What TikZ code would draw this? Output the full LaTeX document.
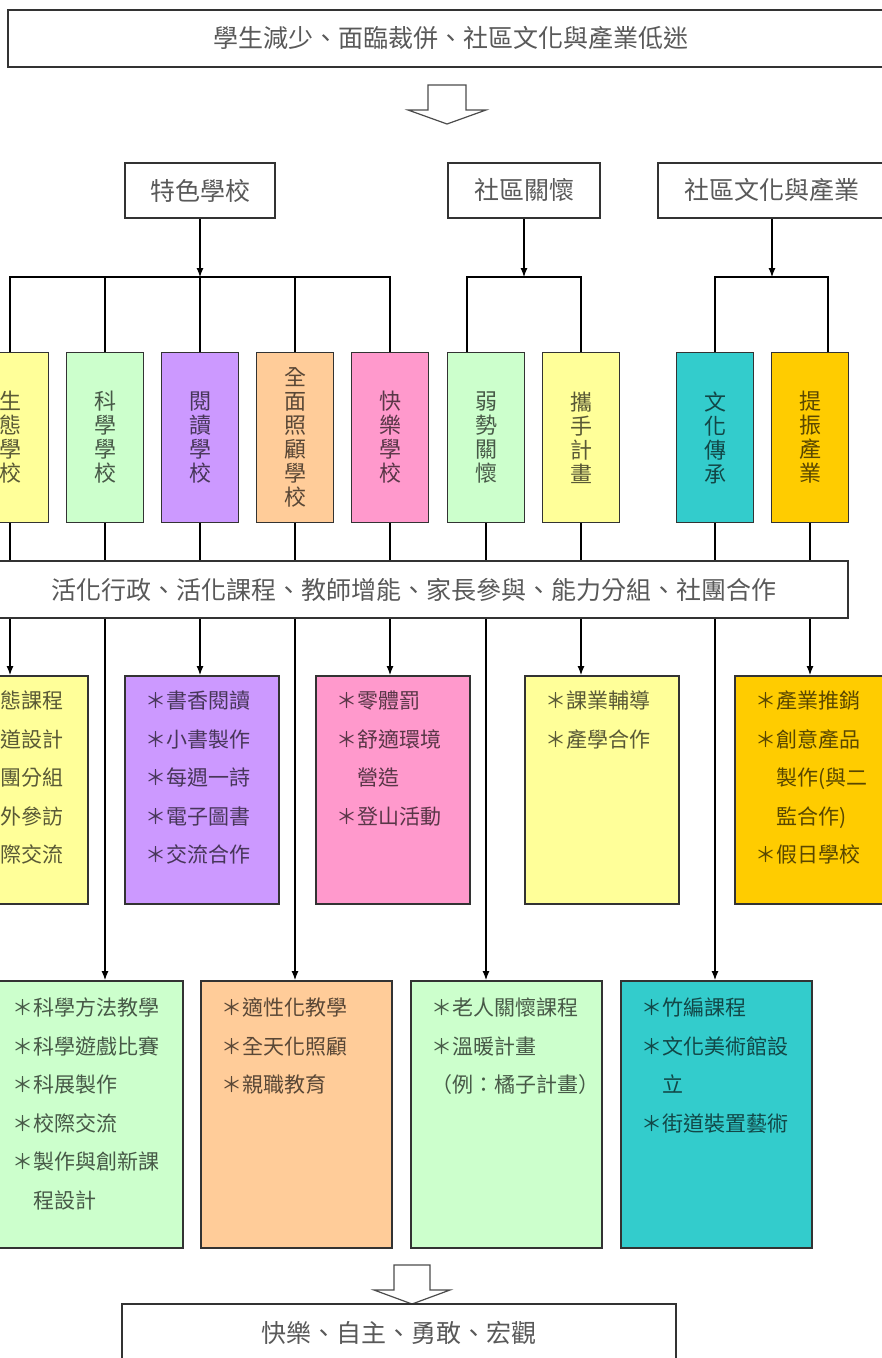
\documentclass[tikz,border=0pt]{standalone}
\usepackage{fontspec}
\newfontfamily\cjk{Noto Sans CJK TC}
\usetikzlibrary{
  arrows.meta,
  positioning,
}
\definecolor{boxyellow}{RGB}{255, 255, 153}
\definecolor{boxgreen}{RGB}{204, 255, 204}
\definecolor{boxpurple}{RGB}{204, 153, 255}
\definecolor{boxpeach}{RGB}{255, 204, 153}
\definecolor{boxpink}{RGB}{255, 153, 204}
\definecolor{boxteal}{RGB}{51, 204, 204}
\definecolor{boxgold}{RGB}{255, 204, 0}
\tikzstyle{arrow} = [
  -{Latex[length=9pt,width=7pt]},
  line width=1.1pt,
  black,
]
\tikzstyle{link} = [line width=1.1pt, black]
\tikzstyle{banner} = [
  rectangle,
  draw=black!80,
  line width=1.5pt,
  fill=white,
  text=black!65,
  inner sep=0pt,
  font=\cjk\fontsize{25}{28}\selectfont,
]
\tikzstyle{vbox} = [
  rectangle,
  draw=black!80,
  line width=1.5pt,
  minimum width=77pt,
  minimum height=170pt,
  inner sep=0pt,
  align=center,
  font=\cjk\fontsize{22}{24}\selectfont,
]
\tikzstyle{listbox} = [
  rectangle,
  draw=black!80,
  line width=1.5pt,
  anchor=north west,
  align=left,
  inner xsep=21pt,
  inner ysep=0pt,
  font=\cjk\fontsize{21}{38.5}\selectfont,
]

\begin{document}
\begin{tikzpicture}[x=1pt,y=-1pt,node distance=95pt]
\useasboundingbox (0,0) rectangle (882,1358);

\node[banner,minimum width=886,minimum height=57] (problem) at (451,38.5) {學生減少、面臨裁併、社區文化與產業低迷};
\draw[line width=1.2pt,draw=black!70,fill=white] (428,85) -- (466,85) -- (466,110) -- (486,110) -- (447,124) -- (408,110) -- (428,110) -- cycle;

\node[banner,minimum width=150,minimum height=55] (spec) at (200,190.5) {特色學校};
\node[banner,minimum width=152,minimum height=55] (care) at (524,190.5) {社區關懷};
\node[banner,minimum width=228,minimum height=55] (ind) at (772,190.5) {社區文化與產業};

\node[vbox,fill=boxyellow,text=boxyellow!35!black] (eco) at (10,437.5) {生\\態\\學\\校};
\node[vbox,fill=boxgreen,text=boxgreen!35!black] (sci) [right of=eco] {科\\學\\學\\校};
\node[vbox,fill=boxpurple,text=boxpurple!35!black] (read) [right of=sci] {閱\\讀\\學\\校};
\node[vbox,fill=boxpeach,text=boxpeach!35!black] (whole) [right of=read] {全\\面\\照\\顧\\學\\校};
\node[vbox,fill=boxpink,text=boxpink!35!black] (happy) [right of=whole] {快\\樂\\學\\校};
\node[vbox,fill=boxgreen,text=boxgreen!35!black] (weak) at (486,437.5) {弱\\勢\\關\\懷};
\node[vbox,fill=boxyellow,text=boxyellow!35!black] (hand) [right of=weak] {攜\\手\\計\\畫};
\node[vbox,fill=boxteal,text=boxteal!35!black] (culture) at (715,437.5) {文\\化\\傳\\承};
\node[vbox,fill=boxgold,text=boxgold!35!black] (boost) [right of=culture] {提\\振\\產\\業};

\node[banner,minimum width=868,minimum height=57] (bar) at (414,589.5) {活化行政、活化課程、教師增能、家長參與、能力分組、社團合作};

\node[listbox,fill=boxyellow,text=boxyellow!35!black,minimum width=108,text width=66,text height=33,text depth=195] (eco3) at (-21,675) {態課程\\道設計\\團分組\\外參訪\\際交流};
\node[listbox,fill=boxpurple,text=boxpurple!35!black,minimum width=154,text width=112,text height=33,text depth=195] (read3) at (124,675) {＊書香閱讀\\＊小書製作\\＊每週一詩\\＊電子圖書\\＊交流合作};
\node[listbox,fill=boxpink,text=boxpink!35!black,minimum width=154,text width=112,text height=33,text depth=195] (happy3) at (315,675) {＊零體罰\\＊舒適環境\\\hspace*{1em}營造\\＊登山活動};
\node[listbox,fill=boxyellow,text=boxyellow!35!black,minimum width=154,text width=112,text height=33,text depth=195] (hand3) at (524,675) {＊課業輔導\\＊產學合作};
\node[listbox,fill=boxgold,text=boxgold!35!black,minimum width=154,text width=112,text height=33,text depth=195] (boost3) at (734,675) {＊產業推銷\\＊創意產品\\\hspace*{1em}製作(與二\\\hspace*{1em}監合作)\\＊假日學校};

\node[listbox,fill=boxgreen,text=boxgreen!35!black,minimum width=191,text width=149,text height=35,text depth=232] (sci4) at (-9,980) {＊科學方法教學\\＊科學遊戲比賽\\＊科展製作\\＊校際交流\\＊製作與創新課\\\hspace*{1em}程設計};
\node[listbox,fill=boxpeach,text=boxpeach!35!black,minimum width=191,text width=149,text height=35,text depth=232] (whole4) at (200,980) {＊適性化教學\\＊全天化照顧\\＊親職教育};
\node[listbox,fill=boxgreen,text=boxgreen!35!black,minimum width=191,text width=149,text height=35,text depth=232] (weak4) at (410,980) {＊老人關懷課程\\＊溫暖計畫\\（例：橘子計畫）};
\node[listbox,fill=boxteal,text=boxteal!35!black,minimum width=191,text width=149,text height=35,text depth=232] (culture4) at (620,980) {＊竹編課程\\＊文化美術館設\\\hspace*{1em}立\\＊街道裝置藝術};

\draw[line width=1.2pt,draw=black!70,fill=white] (394,1265) -- (430,1265) -- (430,1290) -- (450,1290) -- (412,1304) -- (374,1290) -- (394,1290) -- cycle;
\node[banner,minimum width=554,minimum height=58] (goal) at (399,1333) {快樂、自主、勇敢、宏觀};

\coordinate (busA) at (200,277);
\coordinate (busB) at (524,277);
\coordinate (busC) at (772,277);
\draw[arrow] (spec.south) -- (busA);
\draw[arrow] (care.south) -- (busB);
\draw[arrow] (ind.south) -- (busC);
\draw[link] (eco.north) -- (eco.north |- busA) -- (happy.north |- busA) -- (happy.north);
\foreach \n in {sci,read,whole}
  \draw[link] (\n.north) -- (\n.north |- busA);
\draw[link] ([xshift=-19pt]weak.north) -- ([xshift=-19pt]weak.north |- busB) -- (hand.north |- busB) -- (hand.north);
\draw[link] (culture.north) -- (culture.north |- busC) -- ([xshift=18pt]boost.north |- busC) -- ([xshift=18pt]boost.north);

\foreach \n in {eco,sci,read,whole,happy,weak,hand,culture,boost}
  \draw[link] (\n.south) -- (\n.south |- bar.north);
\foreach \a/\b in {eco/eco3,read/read3,happy/happy3,hand/hand3,boost/boost3,sci/sci4,whole/whole4,weak/weak4,culture/culture4}
  \draw[arrow] (\a.south |- bar.south) -- (\a.south |- \b.north);
\end{tikzpicture}
\end{document}
